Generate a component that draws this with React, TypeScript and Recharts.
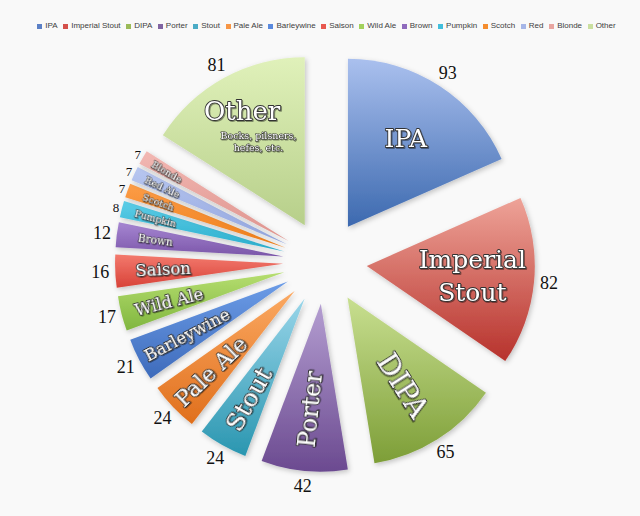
import React from 'react';
import { PieChart, Pie, Sector, Legend } from 'recharts';

// clockwise order of the slices, starting at 12 o'clock
const beers = ['IPA', 'Imperial Stout', 'DIPA', 'Porter', 'Stout', 'Pale Ale', 'Barleywine', 'Wild Ale', 'Saison', 'Brown', 'Pumpkin', 'Scotch', 'Red', 'Blonde', 'Other'];
const counts = [93, 82, 65, 42, 24, 24, 21, 17, 16, 12, 8, 7, 7, 7, 81];
// the legend lists Saison before Wild Ale
const legendOrder = ['IPA', 'Imperial Stout', 'DIPA', 'Porter', 'Stout', 'Pale Ale', 'Barleywine', 'Saison', 'Wild Ale', 'Brown', 'Pumpkin', 'Scotch', 'Red', 'Blonde', 'Other'];

const data = beers.map((name, i) => ({ name, value: counts[i] }));

// top of gradient, bottom of gradient, legend swatch
const colors: Record<string, [string, string, string]> = {
    'IPA': ['#aac0ee', '#3c69af', '#5b80c6'],
    'Imperial Stout': ['#eea398', '#b7322c', '#d4504b'],
    'DIPA': ['#c8df90', '#7d9e37', '#9bbb59'],
    'Porter': ['#b49ed1', '#6b4a90', '#8064a2'],
    'Stout': ['#98d5e9', '#2a96b0', '#4bacc6'],
    'Pale Ale': ['#fba962', '#e06f1c', '#f79646'],
    'Barleywine': ['#6c9ce7', '#3e6bbb', '#5a8ade'],
    'Wild Ale': ['#b6de70', '#80b63f', '#a2d15c'],
    'Saison': ['#f37a6e', '#d84238', '#e8584f'],
    'Brown': ['#a686d2', '#7b56a9', '#8f6bbd'],
    'Pumpkin': ['#5ccde7', '#2aaecd', '#42bfdc'],
    'Scotch': ['#fc9d48', '#ef7e1a', '#f58d2e'],
    'Red': ['#b8c7f0', '#92a5df', '#a6b6e8'],
    'Blonde': ['#f2b8b3', '#de938d', '#e8a5a0'],
    'Other': ['#e0f1ba', '#b7cf8a', '#cadf9f'],
};

// text drawn inside each slice: lines, font size, distance from slice tip
const inside: Record<string, { lines: string[]; size: number; r: number; flat?: boolean }> = {
    'IPA': { lines: ['IPA'], size: 25, r: 106, flat: true },
    'Imperial Stout': { lines: ['Imperial', 'Stout'], size: 25, r: 106, flat: true },
    'DIPA': { lines: ['DIPA'], size: 28, r: 104 },
    'Porter': { lines: ['Porter'], size: 24, r: 106 },
    'Stout': { lines: ['Stout'], size: 25, r: 115 },
    'Pale Ale': { lines: ['Pale Ale'], size: 22, r: 116 },
    'Barleywine': { lines: ['Barleywine'], size: 16.5, r: 114 },
    'Wild Ale': { lines: ['Wild Ale'], size: 16.5, r: 119 },
    'Saison': { lines: ['Saison'], size: 16.5, r: 120 },
    'Brown': { lines: ['Brown'], size: 10.5, r: 129 },
    'Pumpkin': { lines: ['Pumpkin'], size: 9.5, r: 133 },
    'Scotch': { lines: ['Scotch'], size: 9.5, r: 135 },
    'Red': { lines: ['Red Ale'], size: 9.5, r: 137 },
    'Blonde': { lines: ['Blonde'], size: 9.5, r: 140 },
    'Other': { lines: ['Other'], size: 26, r: 130, flat: true },
};
const otherNote = ['Bocks, pilsners,', 'hefes, etc.'];

const EXPLODE = 42;

const renderSlice = (props: any) => {
    const { cx, cy, midAngle, startAngle, endAngle, outerRadius, index, name, value } = props;
    const rad = (midAngle * Math.PI) / 180;
    const ux = Math.cos(rad);
    const uy = -Math.sin(rad);
    const ex = cx + EXPLODE * ux;
    const ey = cy + EXPLODE * uy;
    const [top, bottom] = colors[name];
    const t = inside[name];
    const a = ((((midAngle % 360) + 540) % 360) - 180);
    const rot = t.flat ? 0 : ux >= 0 ? -a : 180 - a;
    const tx = ex + t.r * ux;
    const ty = ey + t.r * uy;
    const lh = t.size * 1.32;
    const small = value < 10;
    const vr = outerRadius + (small ? 6 : 15);
    const textOutline = t.size > 14 ? 1.8 : 1.1;

    return (
        <g key={`slice-${index}`}>
            <defs>
                {index === 0 && (
                    <>
                        <filter id="sliceShadow" x="-20%" y="-20%" width="140%" height="140%">
                            <feDropShadow dx="1.5" dy="2" stdDeviation="2.5" floodColor="#000" floodOpacity="0.22" />
                        </filter>
                        <filter id="textShadow" x="-20%" y="-20%" width="140%" height="140%">
                            <feDropShadow dx="1" dy="1" stdDeviation="0.6" floodColor="#000" floodOpacity="0.4" />
                        </filter>
                    </>
                )}
                <linearGradient id={`grad${index}`} x1="0" y1="0" x2="0" y2="1">
                    <stop offset="0%" stopColor={top} />
                    <stop offset="100%" stopColor={bottom} />
                </linearGradient>
            </defs>
            <g filter="url(#sliceShadow)">
                <Sector
                    cx={ex}
                    cy={ey}
                    innerRadius={0}
                    outerRadius={outerRadius}
                    startAngle={startAngle}
                    endAngle={endAngle}
                    fill={`url(#grad${index})`}
                    stroke="none"
                />
            </g>
            <text
                transform={`translate(${tx},${ty}) rotate(${rot})`}
                textAnchor="middle"
                dominantBaseline="central"
                fontFamily="DejaVu Serif"
                fontSize={t.size}
                fill="#ffffff"
                stroke="#333333"
                strokeWidth={textOutline}
                strokeLinejoin="round"
                paintOrder="stroke"
                filter="url(#textShadow)"
            >
                {t.lines.map((line, k) => (
                    <tspan key={k} x={0} y={(k - (t.lines.length - 1) / 2) * lh}>{line}</tspan>
                ))}
            </text>
            {name === 'Other' && (
                <text
                    transform={`translate(${ex + 96 * ux},${ey + 96 * uy})`}
                    textAnchor="middle"
                    dominantBaseline="central"
                    fontFamily="DejaVu Serif"
                    fontSize={9.5}
                    fill="#ffffff"
                    stroke="#333333"
                    strokeWidth={1.1}
                    strokeLinejoin="round"
                    paintOrder="stroke"
                    filter="url(#textShadow)"
                >
                    {otherNote.map((line, k) => (
                        <tspan key={k} x={0} y={(k - 0.5) * 12}>{line}</tspan>
                    ))}
                </text>
            )}
            <text
                x={ex + vr * ux}
                y={ey + vr * uy}
                textAnchor="middle"
                dominantBaseline="central"
                fontFamily="Liberation Serif"
                fontSize={small ? 13 : 18}
                fill="#111"
            >
                {value}
            </text>
        </g>
    );
};

const renderLegend = () => (
    <div style={{ display: 'flex', justifyContent: 'center', paddingLeft: 13, fontFamily: 'Liberation Sans', fontSize: 8, color: '#404040', lineHeight: '10px' }}>
        {legendOrder.map((name, i) => (
            <div key={name} style={{ display: 'flex', alignItems: 'center', marginLeft: i === 0 ? 0 : 5.6 }}>
                <span style={{ width: 5, height: 5, background: colors[name][2], marginRight: 3, display: 'inline-block' }} />
                <span>{name}</span>
            </div>
        ))}
    </div>
);

export default function App() {
    return (
        <div style={{ position: 'absolute', left: 0, top: 0, width: 640, height: 516, background: '#f9f9f9' }}>
            <PieChart width={640} height={516} margin={{ top: 0, right: 0, bottom: 0, left: 0 }}>
                <Legend verticalAlign="top" align="center" content={renderLegend} wrapperStyle={{ top: 21, left: 0, width: 640 }} />
                <Pie
                    data={data}
                    dataKey="value"
                    nameKey="name"
                    cx={325}
                    cy={252}
                    outerRadius={168}
                    startAngle={90}
                    endAngle={-270}
                    fill="none"
                    stroke="none"
                    label={renderSlice}
                    labelLine={false}
                    isAnimationActive={false}
                />
            </PieChart>
        </div>
    );
}
